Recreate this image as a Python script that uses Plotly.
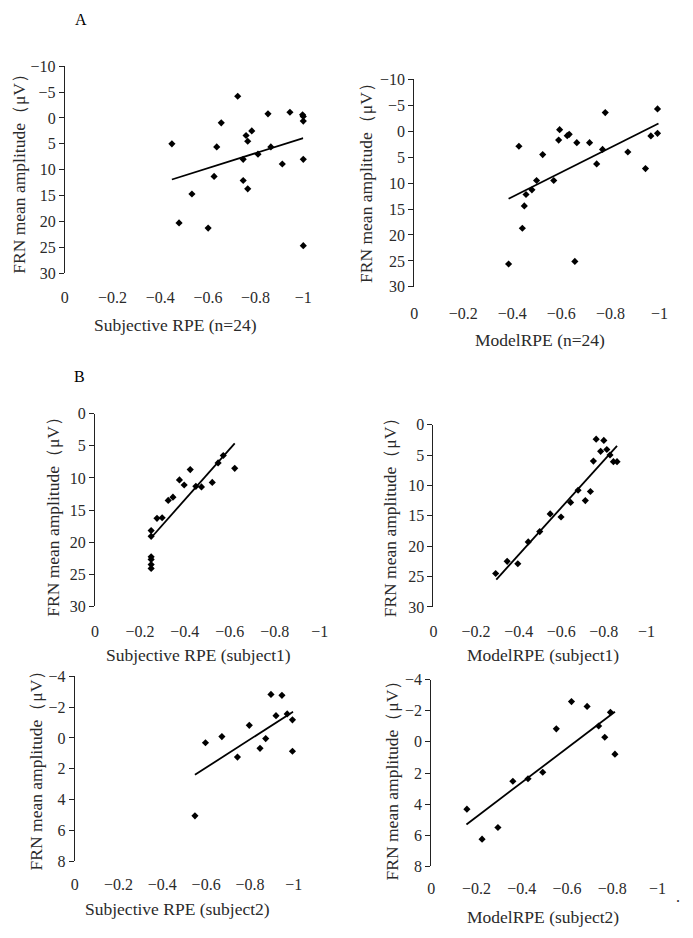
import plotly.graph_objects as go

W, H = 693, 938

# ---------------- data ----------------
# Panel A, left: Subjective RPE (n=24)
a1_x = [-0.449, -0.479, -0.533, -0.601, -0.626, -0.637, -0.656, -0.725, -0.748, -0.748,
        -0.760, -0.767, -0.767, -0.784, -0.810, -0.852, -0.864, -0.912, -0.944, -0.997,
        -1.0, -1.0, -1.0, -1.0]
a1_y = [5.0, 20.3, 14.7, 21.3, 11.3, 5.6, 0.95, -4.2, 8.0, 12.1,
        3.4, 4.5, 13.7, 2.5, 7.0, -0.8, 5.6, 8.9, -1.1, -0.6,
        -0.3, 0.6, 8.0, 24.7]
a1_fit_x = [-0.449, -1.0]
a1_fit_y = [11.9, 3.9]

# Panel A, right: ModelRPE (n=24)
a2_x = [-0.385, -0.427, -0.441, -0.449, -0.456, -0.480, -0.499, -0.524, -0.569, -0.589,
        -0.593, -0.624, -0.632, -0.655, -0.663, -0.715, -0.744, -0.768, -0.779, -0.871,
        -0.943, -0.965, -0.992, -0.992]
a2_y = [25.6, 2.9, 18.7, 14.4, 12.2, 11.3, 9.5, 4.5, 9.5, 1.7,
        -0.3, 0.85, 0.6, 25.1, 2.2, 2.2, 6.3, 3.5, -3.6, 4.0,
        7.2, 0.9, 0.4, -4.3]
a2_fit_x = [-0.385, -0.996]
a2_fit_y = [13.0, -1.5]

# Panel B: Subjective RPE (subject1)
b1_x = [-0.25, -0.25, -0.25, -0.25, -0.25, -0.25, -0.276, -0.299, -0.326, -0.347,
        -0.376, -0.397, -0.424, -0.449, -0.474, -0.522, -0.548, -0.571, -0.622]
b1_y = [18.2, 19.1, 22.3, 22.7, 23.5, 24.1, 16.3, 16.2, 13.5, 13.0,
        10.3, 11.1, 8.7, 11.3, 11.4, 10.7, 7.65, 6.5, 8.5]
b1_fit_x = [-0.253, -0.622]
b1_fit_y = [19.2, 4.6]

# Panel B: ModelRPE (subject1)
b2_x = [-0.292, -0.346, -0.396, -0.445, -0.499, -0.548, -0.599, -0.644, -0.679, -0.713,
        -0.737, -0.751, -0.764, -0.785, -0.800, -0.814, -0.829, -0.845, -0.862]
b2_y = [24.5, 22.5, 22.9, 19.3, 17.6, 14.7, 15.2, 12.8, 10.8, 12.5,
        11.0, 6.0, 2.4, 4.4, 2.6, 4.1, 5.0, 6.1, 6.1]
b2_fit_x = [-0.295, -0.862]
b2_fit_y = [25.5, 3.5]

# Panel B: Subjective RPE (subject2)
b3_x = [-0.549, -0.597, -0.672, -0.743, -0.797, -0.846, -0.872, -0.896, -0.919, -0.946,
        -0.970, -0.994, -0.994]
b3_y = [5.05, 0.31, -0.09, 1.24, -0.82, 0.67, 0.04, -2.83, -1.45, -2.77,
        -1.56, -1.18, 0.86]
b3_fit_x = [-0.549, -0.997]
b3_fit_y = [2.39, -1.71]

# Panel B: ModelRPE (subject2)
b4_x = [-0.158, -0.225, -0.295, -0.361, -0.428, -0.493, -0.553, -0.620, -0.689, -0.740,
        -0.767, -0.792, -0.812]
b4_y = [4.32, 6.25, 5.5, 2.53, 2.37, 1.95, -0.84, -2.59, -2.28, -1.02,
        -0.30, -1.90, 0.79]
b4_fit_x = [-0.156, -0.812]
b4_fit_y = [5.31, -1.94]

x_ticks = [0, -0.2, -0.4, -0.6, -0.8, -1]
yticks_a = [-10, -5, 0, 5, 10, 15, 20, 25, 30]
yticks_b1 = [0, 5, 10, 15, 20, 25, 30]
yticks_b2 = [-4, -2, 0, 2, 4, 6, 8]

y_title = "FRN mean amplitude（μV）"
x_titles = ["Subjective RPE (n=24)", "ModelRPE (n=24)",
            "Subjective RPE (subject1)", "ModelRPE (subject1)",
            "Subjective RPE (subject2)", "ModelRPE (subject2)"]

# ---------------- layout geometry (pixels) ----------------
# (x_left, x_right, y_top, y_bottom) of each plot area
boxes = [
    (62, 305, 59.3, 270),
    (418, 668, 72.7, 284),
    (92.7, 321.7, 413.3, 609.3),
    (437.7, 654.7, 424.3, 610),
    (72, 295.3, 680.7, 869),
    (435.3, 666, 684, 874.3),
]
yranges = [(30, -10), (30, -10), (30, 0), (30, 0), (8, -4), (8, -4)]
yticks = [yticks_a, yticks_a, yticks_b1, yticks_b1, yticks_b2, yticks_b2]
standoffs = [13, 15, 14, 13, 12, 11]
# axis title positions (center x, center y)
xt_pos = [(175, 323), (546, 338), (198, 659), (549, 659), (177, 918), (549, 926)]
yt_pos = [(15, 164), (369, 174), (50, 514), (393, 514), (33, 772), (395, 782)]

series = [(a1_x, a1_y, a1_fit_x, a1_fit_y), (a2_x, a2_y, a2_fit_x, a2_fit_y),
          (b1_x, b1_y, b1_fit_x, b1_fit_y), (b2_x, b2_y, b2_fit_x, b2_fit_y),
          (b3_x, b3_y, b3_fit_x, b3_fit_y), (b4_x, b4_y, b4_fit_x, b4_fit_y)]

FONT = "Liberation Serif, Times New Roman, serif"
TXT = "#2a2a2a"

fig = go.Figure()
layout = {}
annotations = []

for i, (box, yr, yt, so, xtp, ytp, s) in enumerate(
        zip(boxes, yranges, yticks, standoffs, xt_pos, yt_pos, series)):
    n = i + 1
    xa = "x" if n == 1 else f"x{n}"
    ya = "y" if n == 1 else f"y{n}"
    xl, xr, yt_px, yb_px = box
    sx, sy, fx, fy = s
    fig.add_trace(go.Scatter(x=fx, y=fy, mode="lines", xaxis=xa, yaxis=ya,
                             line=dict(color="black", width=1.8),
                             showlegend=False, hoverinfo="skip"))
    fig.add_trace(go.Scatter(x=sx, y=sy, mode="markers", xaxis=xa, yaxis=ya,
                             marker=dict(symbol="diamond", size=5.5, color="black"),
                             cliponaxis=False, showlegend=False))
    layout["xaxis" if n == 1 else f"xaxis{n}"] = dict(
        domain=[xl / W, xr / W], anchor=ya, range=[0, -1],
        tickmode="array", tickvals=x_ticks,
        showline=False, showgrid=False, zeroline=False, ticks="",
        ticklabelstandoff=so,
        tickfont=dict(family=FONT, size=16, color=TXT),
    )
    layout["yaxis" if n == 1 else f"yaxis{n}"] = dict(
        domain=[1 - yb_px / H, 1 - yt_px / H], anchor=xa, range=list(yr),
        tickmode="array", tickvals=yt,
        showline=True, linecolor="#222", linewidth=1,
        ticks="outside", ticklen=5, tickcolor="#222",
        showgrid=False, zeroline=False,
        tickfont=dict(family=FONT, size=16, color=TXT),
    )
    annotations.append(dict(text=x_titles[i], x=xtp[0] / W, y=1 - xtp[1] / H,
                            xref="paper", yref="paper", showarrow=False,
                            xanchor="center", yanchor="middle",
                            font=dict(family=FONT, size=17.5, color=TXT)))
    annotations.append(dict(text=y_title, x=ytp[0] / W, y=1 - ytp[1] / H,
                            xref="paper", yref="paper", showarrow=False,
                            xanchor="center", yanchor="middle", textangle=-90,
                            font=dict(family=FONT, size=17.5, color=TXT)))

annotations.append(dict(text="A", x=78 / W, y=1 - 12 / H, xref="paper", yref="paper",
                        showarrow=False, xanchor="center", yanchor="middle",
                        font=dict(family=FONT, size=16, color="black")))
annotations.append(dict(text="B", x=77 / W, y=1 - 375 / H, xref="paper", yref="paper",
                        showarrow=False, xanchor="center", yanchor="middle",
                        font=dict(family=FONT, size=16, color="black")))
annotations.append(dict(text=".", x=687 / W, y=1 - 905 / H, xref="paper", yref="paper",
                        showarrow=False, xanchor="center", yanchor="middle",
                        font=dict(family=FONT, size=16, color=TXT)))

fig.update_layout(
    width=W, height=H,
    margin=dict(l=0, r=0, t=0, b=0),
    paper_bgcolor="white", plot_bgcolor="white",
    showlegend=False,
    annotations=annotations,
    **layout,
)

fig.write_html("out.html",
               config={"displayModeBar": False},
               post_script="document.body.style.margin='0';"
                           "document.documentElement.style.overflow='hidden';")
